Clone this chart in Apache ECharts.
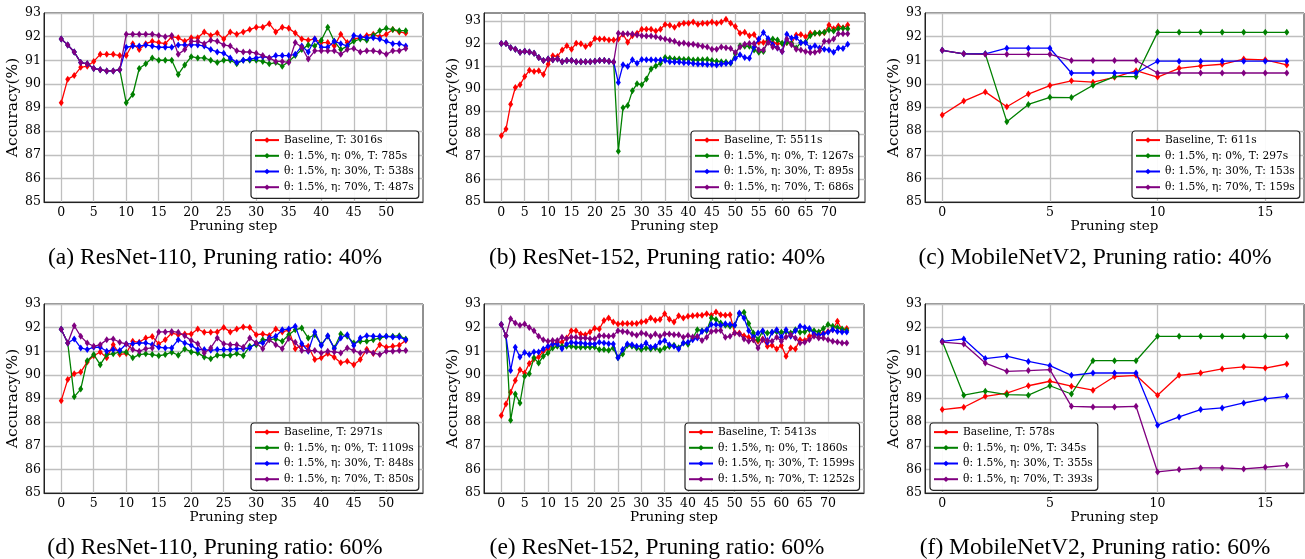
<!DOCTYPE html>
<html><head><meta charset="utf-8">
<script src="https://cdn.jsdelivr.net/npm/echarts@6/dist/echarts.min.js"></script>
<style>html,body{margin:0;padding:0;background:#fff}#c{width:1305px;height:559px}</style>
</head><body><div id="c"></div><script>
// ---------- data ----------
const yTicks = [85, 86, 87, 88, 89, 90, 91, 92, 93];
const xTicksA = [0, 5, 10, 15, 20, 25, 30, 35, 40, 45, 50];
const xTicksB = [0, 5, 10, 15, 20, 25, 30, 35, 40, 45, 50, 55, 60, 65, 70];
const xTicksC = [0, 5, 10, 15];

const namesA = ['Baseline, T: 3016s', 'θ: 1.5%, η: 0%, T: 785s', 'θ: 1.5%, η: 30%, T: 538s', 'θ: 1.5%, η: 70%, T: 487s'];
const namesB = ['Baseline, T: 5511s', 'θ: 1.5%, η: 0%, T: 1267s', 'θ: 1.5%, η: 30%, T: 895s', 'θ: 1.5%, η: 70%, T: 686s'];
const namesC = ['Baseline, T: 611s', 'θ: 1.5%, η: 0%, T: 297s', 'θ: 1.5%, η: 30%, T: 153s', 'θ: 1.5%, η: 70%, T: 159s'];
const namesD = ['Baseline, T: 2971s', 'θ: 1.5%, η: 0%, T: 1109s', 'θ: 1.5%, η: 30%, T: 848s', 'θ: 1.5%, η: 70%, T: 850s'];
const namesE = ['Baseline, T: 5413s', 'θ: 1.5%, η: 0%, T: 1860s', 'θ: 1.5%, η: 30%, T: 1599s', 'θ: 1.5%, η: 70%, T: 1252s'];
const namesF = ['Baseline, T: 578s', 'θ: 1.5%, η: 0%, T: 345s', 'θ: 1.5%, η: 30%, T: 355s', 'θ: 1.5%, η: 70%, T: 393s'];

const captions = ['(a) ResNet-110, Pruning ratio: 40%', '(b) ResNet-152, Pruning ratio: 40%', '(c) MobileNetV2, Pruning ratio: 40%',
                  '(d) ResNet-110, Pruning ratio: 60%', '(e) ResNet-152, Pruning ratio: 60%', '(f) MobileNetV2, Pruning ratio: 60%'];

// (a) ResNet-110, 40%
const aBase = [89.2,90.2,90.35,90.7,90.75,90.95,91.25,91.25,91.25,91.2, 91.2,91.7,91.45,91.7,91.8,91.75,91.7,92.0,91.95,91.8, 91.95,91.95,92.2,92.05,92.15,91.9,92.2,92.1,92.2,92.3, 92.4,92.4,92.55,92.2,92.4,92.35,92.15,91.9,91.85,91.9, 91.75,91.75,91.6,92.1,91.75,91.9,91.95,92.05,92.1,92.0, 92.1,92.3,92.2,92.15];
const aG = [91.9,91.65,91.35,90.9,90.85,90.65,90.6,90.55,90.55,90.6, 89.2,89.55,90.65,90.85,91.1,91.0,91.0,91.0,90.4,90.8, 91.15,91.1,91.1,91.0,90.9,91.0,91.0,90.85,91.0,91.0, 91.0,90.95,90.85,90.9,90.75,90.95,91.2,91.45,91.65,91.6, 91.85,92.4,91.8,91.45,91.6,91.8,91.9,91.85,92.05,92.25, 92.35,92.3,92.25,92.25];
const aB = [91.9,91.65,91.35,90.9,90.85,90.65,90.6,90.55,90.55,90.6, 91.55,91.6,91.6,91.65,91.6,91.55,91.55,91.55,91.65,91.65, 91.65,91.65,91.6,91.45,91.35,91.3,91.1,90.9,91.0,91.05, 91.1,91.15,91.1,91.2,91.2,91.2,91.25,91.6,91.35,91.9, 91.55,91.55,91.8,91.7,91.6,92.05,92.0,91.95,91.95,91.9, 91.8,91.7,91.7,91.6];
const aP = [91.9,91.65,91.35,90.9,90.85,90.65,90.6,90.55,90.55,90.6, 92.1,92.1,92.1,92.1,92.1,92.05,92.0,92.05,91.25,91.45, 91.8,91.8,91.7,91.85,91.8,91.65,91.6,91.4,91.35,91.35, 91.3,91.2,91.1,90.95,90.95,90.9,91.75,91.55,91.05,91.4, 91.4,91.4,91.4,91.25,91.45,91.5,91.35,91.4,91.4,91.35, 91.25,91.4,91.4,91.5];

// (b) ResNet-152, 40%
const bBase = [87.93,88.22,89.32,90.06,90.18,90.54,90.82,90.76,90.8,90.63, 91.09,91.46,91.43,91.72,91.9,91.75,92.01,91.99,91.87,91.97, 92.22,92.2,92.2,92.16,92.16,92.2,92.41,92.06,92.34,92.46, 92.63,92.63,92.63,92.55,92.63,92.84,92.81,92.72,92.84,92.9, 92.9,92.95,92.85,92.9,92.9,92.95,92.9,92.95,93.07,92.9, 92.75,92.46,92.5,92.35,92.4,92.06,92.05,92.15,92.05,92.0, 92.0,92.05,92.0,92.38,92.4,92.3,92.45,92.45,92.45,92.48, 92.82,92.65,92.78,92.7,92.82];
const bG = [92.0,92.0,91.82,91.75,91.62,91.66,91.63,91.57,91.38,91.25, 91.32,91.28,91.32,91.2,91.25,91.25,91.2,91.2,91.2,91.2, 91.22,91.25,91.25,91.22,91.18, 87.24,89.16,89.26,89.91,90.22, 90.18,90.43,90.88,91.01,91.13, 91.38,91.35,91.32,91.32,91.3, 91.31,91.27,91.28,91.28,91.3, 91.25,91.22,91.2,91.18,91.13, 91.55,91.9,91.88,91.88,91.72, 91.62,91.65,92.16,92.2,92.16, 92.01,92.05,92.01,91.8,92.05, 92.06,92.35,92.45,92.47,92.5, 92.6,92.55,92.65,92.68,92.65];
const bB = [92.0,92.0,91.82,91.75,91.62,91.66,91.63,91.57,91.38,91.25, 91.32,91.28,91.32,91.2,91.25,91.25,91.2,91.2,91.2,91.2, 91.22,91.25,91.25,91.22,91.18, 90.28,91.06,90.99,91.28,91.13, 91.3,91.28,91.28,91.27,91.27, 91.25,91.2,91.18,91.18,91.15, 91.15,91.12,91.1,91.1,91.08, 91.08,91.05,91.1,91.12,91.15, 91.35,91.5,91.38,91.35,91.85, 92.2,92.49,92.22,91.95,91.8, 91.65,92.41,92.25,92.27,92.04, 92.04,91.82,91.9,91.8,91.75, 91.72,91.62,91.8,91.78,91.97];
const bP = [92.0,92.0,91.82,91.75,91.62,91.66,91.63,91.57,91.38,91.25, 91.32,91.28,91.32,91.2,91.25,91.25,91.2,91.2,91.2,91.2, 91.22,91.25,91.25,91.22,91.18, 92.46,92.43,92.43,92.42,92.38, 92.35,92.33,92.33,92.3,92.25, 92.2,92.15,92.1,92.0,92.02, 91.97,91.97,91.93,91.88,91.85, 91.75,91.75,91.85,91.82,91.78, 91.6,91.85,91.97,92.0,92.0, 91.72,91.72,92.05,91.85,91.8, 91.65,92.2,91.95,91.75,91.72, 91.65,91.6,91.62,91.68,92.1, 92.1,92.2,92.43,92.43,92.43];

// (c) MobileNetV2, 40%
const cBase = [88.68,89.27,89.66,89.03,89.57,89.93,90.13,90.07,90.28,90.56,90.29,90.66,90.76,90.83,91.05,91.02,90.8];
const cG = [91.42,91.27,91.27,88.4,89.13,89.43,89.42,89.94,90.31,90.31,92.18,92.18,92.18,92.18,92.18,92.18,92.18];
const cB = [91.42,91.27,91.27,91.51,91.51,91.51,90.46,90.46,90.46,90.46,90.96,90.96,90.96,90.96,90.96,90.96,90.96];
const cP = [91.42,91.27,91.25,91.25,91.25,91.25,90.99,90.99,90.99,90.99,90.46,90.46,90.46,90.46,90.46,90.46,90.46];

// (d) ResNet-110, 60%
const dBase = [88.91,89.8,90.05,90.12,90.55,90.81,90.97,90.72,91.28,90.87, 90.9,91.42,91.38,91.56,91.62,91.31,91.49,91.77,91.7,91.73, 91.73,91.94,91.8,91.8,91.82,92.01,91.82,91.94,92.03,92.01, 91.7,91.73,91.67,91.94,91.82,91.89,91.11,91.24,91.21,90.65, 90.72,90.9,90.75,90.51,90.58,90.43,90.65,91.08,90.9,91.28, 91.17,91.21,91.25,91.46];
const dG = [91.93,91.35,89.07,89.4,90.6,90.86,90.43,90.86,90.89,90.97, 90.96,90.72,90.86,90.89,90.86,90.81,90.86,90.96,90.83,91.1, 90.97,90.93,90.76,90.68,90.83,90.83,90.83,90.9,90.81,91.21, 91.28,91.49,91.49,91.52,91.42,91.7,91.91,91.98,91.56,91.7, 91.28,91.63,91.14,91.73,91.63,91.35,91.42,91.42,91.49,91.56, 91.63,91.63,91.66,91.52];
const dB = [91.93,91.35,91.52,91.14,91.07,91.17,91.17,91.0,91.07,91.03, 91.31,91.32,91.35,91.35,91.28,91.17,91.14,91.14,91.49,91.35, 91.25,91.07,91.07,91.04,91.07,91.07,91.07,91.11,91.11,91.14, 91.35,91.35,91.56,91.63,91.91,91.94,92.06,91.32,91.0,91.82, 91.24,91.66,91.11,91.56,91.7,91.24,91.56,91.66,91.63,91.63, 91.63,91.6,91.6,91.49];
const dP = [91.93,91.35,92.08,91.63,91.35,91.21,91.28,91.49,91.52,91.38, 91.31,91.07,91.0,91.11,91.14,91.82,91.82,91.84,91.8,91.66, 91.45,91.32,90.93,91.14,91.56,91.32,91.28,91.28,91.17,91.56, 91.35,91.11,91.49,91.28,91.11,91.54,91.38,91.03,91.03,91.03, 90.93,91.0,90.97,90.93,91.14,91.03,90.93,91.0,90.93,90.86, 91.0,91.0,91.03,91.03];

// (e) ResNet-152, 60%
const eBase = [88.28,88.77,89.26,89.76,90.22,90.08,90.48,90.67,90.76,91.0, 91.1,91.28,91.38,91.38,91.56,91.87,91.87,91.73,91.7,91.82, 91.97,91.94,92.3,92.41,92.24,92.15,92.17,92.17,92.17,92.17, 92.24,92.27,92.41,92.31,92.34,92.59,92.35,92.24,92.5,92.41, 92.48,92.5,92.52,92.52,92.59,92.52,92.66,92.55,92.52,92.55, 91.77,91.77,91.66,91.59,91.49,91.42,91.52,91.21,91.25,91.1, 91.24,90.79,91.14,91.1,91.49,91.45,91.63,91.73,91.7,91.77, 91.84,91.91,92.27,91.91,91.96];
const eG = [92.13,91.66,88.08,89.19,88.81,89.94,90.05,90.72,90.5,90.79, 90.93,91.14,91.21,91.21,91.21,91.21,91.18,91.17,91.18,91.17, 91.18,91.07,91.07,91.04,91.14,90.72,90.88,91.25,91.21,91.14, 91.07,91.14,91.1,91.14,91.04,91.14,91.2,91.25,91.15,91.35, 91.3,91.55,91.91,91.87,91.87,92.41,92.34,92.2,92.1,92.06, 92.1,92.59,92.65,92.17,91.77,91.49,91.84,91.77,91.8,91.83, 91.8,91.84,91.77,91.91,91.8,91.83,91.91,91.87,91.81,91.96, 92.13,92.06,92.01,91.94,91.89];
const eB = [92.13,91.66,90.19,91.17,90.76,90.95,90.86,90.97,90.97,91.1, 91.21,91.31,91.31,91.11,91.31,91.38,91.35,91.35,91.32,91.32, 91.31,91.38,91.35,91.32,91.31,90.72,91.07,91.31,91.28,91.21, 91.21,91.35,91.17,91.21,91.38,91.45,91.28,91.21,91.1,91.35, 91.38,91.49,91.56,91.84,91.91,92.13,92.13,92.09,92.16,92.13, 92.1,92.62,92.41,91.87,91.59,91.77,91.87,91.38,91.8,91.91, 91.59,91.91,91.63,91.87,92.06,92.01,91.96,91.73,91.68,91.73, 91.8,91.91,91.84,91.82,91.82];
const eP = [92.13,91.66,92.38,92.2,92.1,92.15,92.01,91.87,91.63,91.49, 91.42,91.46,91.46,91.59,91.53,91.59,91.59,91.56,91.56,91.53, 91.53,91.66,91.66,91.63,91.66,91.87,91.84,91.82,91.73,91.68, 91.77,91.73,91.63,91.73,91.63,91.73,91.73,91.7,91.7,91.59, 91.67,91.6,91.63,91.46,91.59,91.84,91.87,91.88,91.59,91.63, 91.77,91.73,91.52,91.42,91.49,91.14,91.49,91.46,91.42,91.59, 91.42,91.6,91.7,91.56,91.35,91.38,91.49,91.63,91.56,91.56, 91.49,91.42,91.39,91.35,91.35];

// (f) MobileNetV2, 60%
const fBase = [88.53,88.63,89.09,89.23,89.54,89.73,89.52,89.35,89.93,89.98,89.14,89.98,90.08,90.25,90.34,90.29,90.46];
const fG = [91.42,89.14,89.31,89.16,89.14,89.54,89.19,90.6,90.6,90.6,91.63,91.63,91.63,91.63,91.63,91.63,91.63];
const fB = [91.42,91.52,90.69,90.79,90.57,90.39,89.98,90.08,90.08,90.08,87.87,88.22,88.53,88.6,88.81,88.98,89.09];
const fP = [91.39,91.31,90.5,90.15,90.18,90.22,88.67,88.64,88.64,88.67,85.89,85.99,86.06,86.06,86.02,86.09,86.17];

// ---------- layout ----------
const colors = ['#ff0000', '#008000', '#0000ff', '#800080'];
const FONT = 'DejaVu Serif';
const panels = [
  {grid:[44, 13, 379, 189],  x:[-2.65, 55.65], xt:xTicksA, yMax:93,   yGap:17, leg:[251, 131],  cap:[215, 258],  names:namesA, s:[aBase,aG,aB,aP]},
  {grid:[484, 13, 381, 189], x:[-3.7, 77.7],   xt:xTicksB, yMax:93.35, yGap:16, leg:[691, 131], cap:[657, 258],  names:namesB, s:[bBase,bG,bB,bP]},
  {grid:[925, 13, 379, 189], x:[-0.8, 16.8],   xt:xTicksC, yMax:93,   yGap:16, leg:[1132, 131], cap:[1095, 258], names:namesC, s:[cBase,cG,cB,cP]},
  {grid:[44, 304, 379, 189], x:[-2.65, 55.65], xt:xTicksA, yMax:93,   yGap:17, leg:[251, 423],  cap:[215, 548],  names:namesD, s:[dBase,dG,dB,dP]},
  {grid:[484, 304, 380, 189],x:[-3.7, 77.7],   xt:xTicksB, yMax:93,   yGap:16, leg:[685, 423],  cap:[657, 548],  names:namesE, s:[eBase,eG,eB,eP]},
  {grid:[925, 304, 379, 189],x:[-0.8, 16.8],   xt:xTicksC, yMax:93,   yGap:16, leg:[930, 423],  cap:[1095, 548], names:namesF, s:[fBase,fG,fB,fP]}
];

const option = {
  animation: false,
  backgroundColor: '#fff',
  grid: [], xAxis: [], yAxis: [], series: [], legend: [], graphic: []
};
const splitLine = {show:true, lineStyle:{color:'#bfbfbf', width:1.3}};
panels.forEach((p, k) => {
  option.grid.push({left:p.grid[0], top:p.grid[1], width:p.grid[2], height:p.grid[3],
    show:true, borderColor:'#222', borderWidth:1, backgroundColor:'transparent', containLabel:false});
  option.xAxis.push({type:'value', gridIndex:k, min:p.x[0], max:p.x[1],
    name:'Pruning step', nameLocation:'middle', nameGap:14,
    nameTextStyle:{fontFamily:FONT, fontSize:13.5, color:'#000'},
    axisLine:{show:true, onZero:false, lineStyle:{color:'#222', width:1}},
    axisTick:{show:false, customValues:p.xt},
    axisLabel:{customValues:p.xt, fontFamily:FONT, fontSize:12.5, color:'#000', margin:4},
    splitLine:splitLine});
  option.yAxis.push({type:'value', gridIndex:k, min:85, max:p.yMax,
    name:'Accuracy(%)', nameLocation:'middle', nameGap:p.yGap,
    nameTextStyle:{fontFamily:FONT, fontSize:15.5, color:'#000'},
    axisLine:{show:true, onZero:false, lineStyle:{color:'#222', width:1}},
    axisTick:{show:false, customValues:yTicks},
    axisLabel:{customValues:yTicks, fontFamily:FONT, fontSize:12.5, color:'#000', margin:3},
    splitLine:splitLine});
  p.s.forEach((vals, j) => {
    option.series.push({type:'line', name:p.names[j], xAxisIndex:k, yAxisIndex:k,
      data: vals.map((v, i) => [i, v]),
      symbol:'diamond', symbolSize:[5, 7], showSymbol:true,
      color:colors[j], lineStyle:{width:1.3, color:colors[j]}, itemStyle:{color:colors[j]},
      z: 2 + j, emphasis:{disabled:true}});
  });
  option.legend.push({orient:'vertical', left:p.leg[0], top:p.leg[1], data:p.names,
    itemWidth:24, itemHeight:7, itemGap:3.5, padding:[3, 5, 5, 3], selectedMode:false,
    borderColor:'#222', borderWidth:1.2, borderRadius:3, backgroundColor:'rgba(255,255,255,0.92)',
    textStyle:{fontFamily:FONT, fontSize:10.6, color:'#000', lineHeight:12.2}});
  option.graphic.push({type:'text', x:p.cap[0], y:p.cap[1],
    style:{text:captions[k], fontFamily:'Liberation Serif', fontSize:23.5, fill:'#000', align:'center', verticalAlign:'middle'}});
});

const chart = echarts.init(document.getElementById('c'), null, {renderer:'canvas'});
chart.setOption(option);
</script></body></html>
